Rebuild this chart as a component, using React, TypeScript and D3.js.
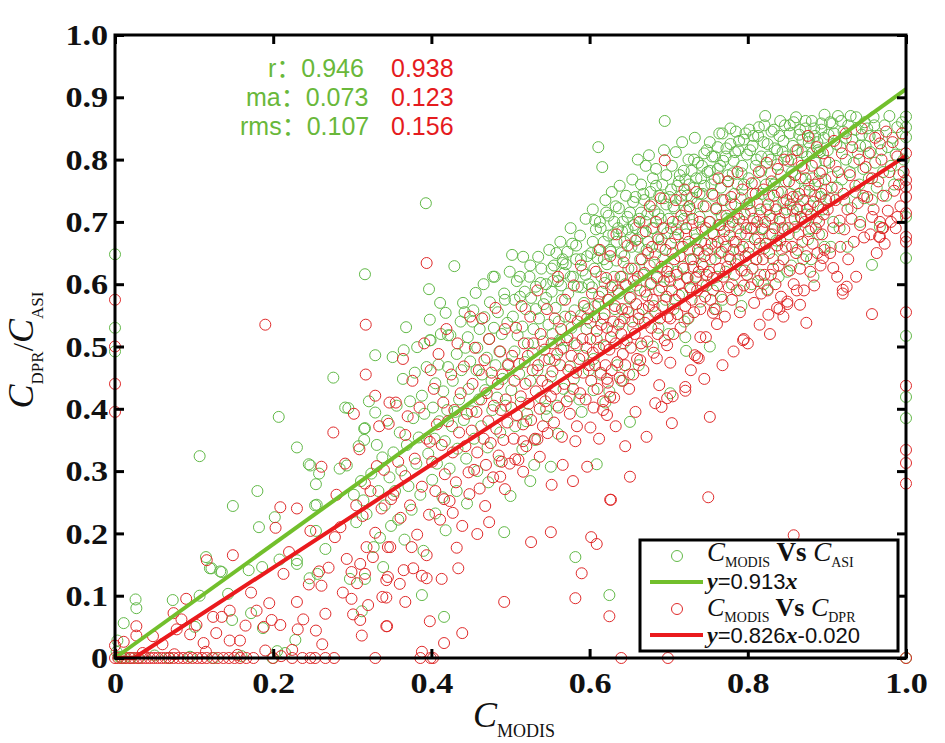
import React, { useEffect, useRef } from "react";
import * as d3 from "d3";

// axis ticks
const xTicks = [0, 0.2, 0.4, 0.6, 0.8, 1.0];
const xTickLabels = ["0", "0.2", "0.4", "0.6", "0.8", "1.0"];
const yTicks = [0, 0.1, 0.2, 0.3, 0.4, 0.5, 0.6, 0.7, 0.8, 0.9, 1.0];
const yTickLabels = ["0", "0.1", "0.2", "0.3", "0.4", "0.5", "0.6", "0.7", "0.8", "0.9", "1.0"];

// regression fits and statistics
const asiFit = { slope: 0.913, intercept: 0 };
const dprFit = { slope: 0.826, intercept: -0.02 };
const statNames = ["r：", "ma：", "rms："];
const asiStats = ["0.946", "0.073", "0.107"];
const dprStats = ["0.938", "0.123", "0.156"];

// points, "x,y" in thousandths (C_MODIS, C_ASI)
const asiLow = `0,648 0,530 0,492 2,10 5,2 8,0 12,0 20,0 3,28 30,0 50,4 68,0 95,2 125,0 160,3 199,0 215,8
11,56 26,94 27,80 73,93 107,324 101,50 107,100 115,162 120,144 122,144 133,139 135,138 143,103 148,61
149,244 169,141 172,72 180,268 182,210 186,146 187,48 205,11 207,387 202,226 208,158 228,29 230,338
230,157 230,151 245,311 247,309 253,245 254,279 254,204 255,246 256,135 246,128 258,296 266,175 276,450
291,402 295,401 284,304 293,309 297,127 302,262 305,218 308,340 311,284 312,75 315,350 315,368 316,127
316,369 316,616 314,253 318,231 321,412 324,296 327,178 329,394 329,486 331,342 333,268 335,193 338,322
339,146 341,245 344,381 347,290 349,212`;

const asiMid = `351,483 352,330 354,268 356,405 358,222 360,362 362,301 364,448 365,494 366,190 368,531 369,342
371,276 373,412 375,238 377,385 379,458 381,312 382,499 384,354 386,262 388,421 388,101 390,172 391,392
393,730 394,467 396,328 397,592 398,543 398,510 399,510 401,286 402,402 404,352 405,441 405,232 407,312
409,471 410,380 411,570 412,520 414,258 415,428 416,66 417,348 418,554 418,205 420,398 421,467 421,518
423,304 424,518 426,372 427,445 429,629 430,395 432,488 432,268 433,336 435,415 437,540 438,462 440,570
441,382 442,555 443,498 444,320 445,248 446,515 447,432 449,476 451,396 452,540 453,558 454,352 456,586
457,462 458,498 458,300 460,415 461,528 463,372 464,455 466,600 467,547 468,430 470,482 471,338 472,282
473,512 474,571 476,445 477,398 478,612 479,530 480,612 481,470 483,418 484,555 486,492 486,316 487,362
489,520 490,448 492,585 492,202 493,575 494,405 496,538 497,472 499,620 500,260 501,430 502,647 503,548
505,492 506,372 508,605 509,518 511,456 512,580 513,410 515,532 515,335 516,644 518,475 519,560 520,380
521,392 522,505 524,612 525,445 525,284 526,578 528,490 529,528 530,310 531,350 532,596 534,462 535,644
536,545 538,418 539,625 541,508 542,568 543,478 545,600 545,400 546,388 548,535 549,655 551,452 551,307
552,588 553,520 554,605 555,630 556,478 557,562 559,405 560,605 560,360 561,540 562,510 563,668 564,495
565,575 566,640 566,634 567,432 568,618 569,548 571,510 572,652 573,585 575,468 575,420 576,690 577,530
578,665 579,612 580,448 581,558 582,162 583,640 584,502 585,596 587,415 588,678 589,550 590,595 590,395
591,622 592,485 593,570 595,705 596,528 597,645 598,560 599,600 599,462
505,575 512,612 518,588 525,630 532,560 538,602 545,578 552,625 558,650 564,598 570,632 576,612 583,662
589,640 595,615`;

const asiHigh = `601,538 602,650 603,595 604,720 605,480 605,430 606,625 607,565 608,688 609,512 609,311 610,642
611,820 612,580 613,700 614,455 615,612 616,788 617,545 618,668 619,602 620,735 620,410 621,500 622,632
623,575 624,710 625,428 625,101 626,655 627,595 628,748 629,525 630,680 631,612 632,560 633,725 634,638
635,470 636,690 637,585 638,758 639,540 640,650 640,445 641,612 642,700 643,505 644,668 645,600 646,742
647,560 648,688 649,625 650,455 651,715 651,379 652,580 653,660 654,768 655,530 656,695 657,625 658,740
659,598 660,672 661,800 662,552 662,470 663,705 664,640 665,760 666,500 667,682 668,615 669,735 670,588
671,790 672,655 673,712 674,545 675,807 676,630 677,748 678,602 679,690 680,770 680,500 681,565 682,718
683,648 684,785 685,610 686,675 687,530 688,742 689,660 690,705 691,595 692,760 693,640 694,815 695,862
696,575 697,728 698,682 699,625 700,520 701,740 702,605 702,425 703,690 704,790 705,650 706,560 707,722
708,675 709,812 710,620 711,758 712,700 713,582 714,775 715,660 716,735 717,828 718,628 719,705 720,540
721,768 721,515 722,493 722,680 723,742 724,610 725,800 725,545 726,655 727,720 728,592 729,782 730,695
731,640 732,755 733,835 734,672 735,612 736,730 737,795 738,650 739,708 740,572 741,770 742,688 743,745
744,628 745,810 746,665 747,725 748,598 749,780 751,700 752,828 752,500 753,640 754,760 755,682 756,590
757,742 758,805 759,660 760,720 760,560 761,612 762,785 763,695 764,842 765,650 766,755 767,710 768,575
769,798 770,672 771,735 772,620 773,818 774,705 775,765 776,645 777,692 778,850 779,728 780,600 781,778
782,668 783,745 784,812 785,632 786,712 787,760 788,690 789,830 790,655 790,590 791,738 792,565 793,790
794,700 795,760 796,622 797,842 798,680 799,728 801,770 802,660 803,815 804,718 805,600 806,745 807,838
808,690 809,762 810,640 811,800 812,730 813,675 814,852 815,710 816,615 817,782 818,745 819,690 820,828
820,600 821,658 822,870 823,760 824,720 825,592 826,805 827,742 828,680 829,778 830,845 831,705 832,640
833,760 834,818 835,725 836,670 837,792 838,748 839,612 840,838 841,700 842,775 843,655 844,812 845,730
846,688 847,855 848,765 849,720 850,620 851,798 852,680 853,842 854,745 855,630 856,780 857,718 858,860
859,760 860,692 861,815 862,740 863,655 864,795 865,725 866,848 867,770 868,705 869,832 870,640 871,785
872,750 873,862 874,712 875,805 876,672 877,760 878,835 879,725 880,690 880,640 881,810 882,770 883,612
884,850 885,742 886,795 887,705 888,828 889,765 890,680 891,812 892,740 893,858 894,782 895,720 896,835
897,660 898,798 899,752 901,815 903,738 904,860 905,660 906,772 908,700 909,842 911,790 913,755 914,870
916,690 917,820 919,768 921,845 922,735 924,800 926,660 927,855 929,780 931,722 932,832 934,795 936,748
937,868 939,810 941,760 942,700 944,840 946,785 947,738 949,822 951,850 953,770 955,812 957,735 957,631
959,868 961,795 963,755 965,838 967,692 969,815 971,780 973,855 975,742 977,820 979,870 981,790 983,835
985,760 987,808 989,852 991,775 993,825 995,860 997,800`;

// denser upper band of the ASI cloud
const asiUpper = `604,668 607,702 611,655 614,690 618,640 621,715 624,678 627,652 631,700 634,668 637,722 641,685
644,645 648,708 652,675 655,732 658,690 662,660 665,715 668,745 671,700 674,668 678,728 681,690 684,758
687,712 691,672 694,738 697,775 700,705 703,752 706,725 710,688 713,765 716,742 719,782 722,718 726,760
729,738 732,800 735,770 739,745 742,790 745,758 748,815 752,782 755,805 758,768 762,820 765,790 768,842
772,805 775,775 778,825 782,798 785,845 788,815 792,778 795,832 799,808 802,848 806,822 810,790 813,838
817,805 821,855 825,825 829,800 833,848 837,815 841,862 845,830 849,805 853,855 857,822 861,868 865,840
869,812 873,850 877,828 881,862 885,838 889,815 893,848 897,872 902,840 907,858 912,825 918,862 924,835
930,870 936,848 942,822 948,860 954,838 960,855`;

const asiEdge = `1000,869 1000,852 1000,836 1000,708 1000,642 1000,517 1000,419 1000,385 1000,0`;

// points, "x,y" in thousandths (C_MODIS, C_DPR)
const dprLow = `0,575 0,500 0,440 0,395 0,20 0,0 4,0 9,0 14,0 19,0 24,0 29,0 34,0 39,0 44,0 49,0 54,0 59,0
64,0 69,0 74,0 80,0 86,0 92,0 98,0 104,0 110,0 116,0 123,0 130,0 137,0 144,0 151,0 158,0 166,0 175,0
200,0 224,0 237,0 247,0 253,0 266,0 277,0 329,0 35,8 75,6 115,10 155,5 190,12 210,3 27,51 27,36 11,26
74,72 84,62 78,46 103,53 116,157 124,66 112,24 135,66 149,165 145,76 145,28 158,28 179,76 188,50 198,61
209,53 203,209 209,242 213,135 230,240 230,90 231,46 224,13 247,204 258,139 245,118 261,116 254,44
261,307 266,71 276,362 280,262 291,312 278,194 293,159 299,138 299,95 301,70 310,61 312,36 316,135
318,178 310,151 316,280 331,308 329,421 329,201 343,97 343,51 343,125 345,130 345,178 190,535 317,535
48,35 60,22 90,95 95,38 128,40 165,52 172,105 195,88 220,170 238,62 262,22 270,145 285,210 288,105
305,245 302,392 306,120 309,335 313,228 317,455 320,85 323,268 326,162 334,372 337,240 340,302 347,410
349,255 338,98 344,51 346,376`;

const dprMid = `367,358 398,347 416,255 427,233 448,263 468,244 473,218 458,199 432,177 394,165 375,178
348,178 377,144 365,141 388,132 394,128 413,127 434,144 360,119 367,90 398,59 439,40 416,24 388,10 386,0
399,0 402,0 492,90 526,186 551,202 493,271 487,291 516,348 489,315 506,319 516,299 537,323 552,278
566,310 579,284 597,307 582,348 601,370 534,351 547,361 590,136 582,96 394,634 352,262 355,410 358,315
361,225 364,480 367,292 370,388 373,245 376,445 379,320 382,198 385,402 388,275 391,505 394,352 397,230
399,462 401,315 403,432 405,268 407,375 409,488 411,222 413,342 415,410 417,295 419,528 421,380 423,252
425,455 427,330 429,398 431,282 433,505 435,362 437,425 439,212 441,468 443,340 445,392 447,298 449,548
451,365 452,440 454,302 455,498 457,395 458,330 460,462 461,272 463,415 464,545 466,352 467,478 469,310
470,425 472,380 473,512 475,345 476,458 478,290 479,405 481,562 482,368 484,440 485,325 487,492 488,398
490,455 491,350 493,528 494,415 496,378 497,470 499,312 501,402 502,485 504,352 505,445 507,530 508,390
510,318 511,472 513,420 514,565 516,375 517,505 519,440 520,340 522,485 523,408 525,548 526,382 528,462
529,505 531,352 532,428 534,590 535,470 537,400 538,520 540,445 541,372 543,495 544,412 546,560 547,438
549,480 551,420 552,505 553,460 555,378 556,545 557,432 559,488 560,612 561,402 563,470 564,528 565,355
567,498 568,440 569,575 571,412 572,515 573,462 575,392 576,548 577,485 579,432 580,598 581,505 583,458
584,372 585,540 587,480 588,425 589,630 591,512 592,458 593,565 595,415 596,498 597,545 599,470`;

const dprHigh = `602,194 609,183 625,67 627,254 651,291 640,0 699,0 957,552 874,538 826,551 837,562 850,568
866,567 795,512 761,536 756,554 740,515 747,515 733,486 738,481 702,474 685,481 698,502 664,478 642,445
622,448 626,419 617,398 622,390 683,409 691,403 698,417 721,435 721,429 704,377 752,387 750,258 626,254
858,197 920,591 920,585 966,676 970,690 989,708 794,510 840,560 850,572 695,799 736,483 971,690 967,676
957,708 925,596 908,626 895,642 967,826 612,352 633,372 645,340 658,395 672,355 688,438 705,420 728,462
745,448 768,470 782,492 800,505 815,535 828,520 845,548 862,590 601,512 602,445 603,585 604,490 605,402
606,548 607,470 608,620 609,525 610,432 611,568 612,498 613,655 614,458 615,535 616,588 617,412 618,502
619,552 620,470 621,610 622,530 623,442 624,575 625,495 626,645 627,515 628,462 629,598 630,540 631,418
632,565 633,505 634,680 635,475 636,590 637,535 638,450 639,612 640,520 641,560 642,488 643,635 644,545
645,470 646,598 647,510 648,662 649,555 650,432 651,578 652,498 653,625 654,540 655,455 656,605 657,520
658,670 659,568 660,480 661,612 662,545 663,700 664,590 665,505 666,640 667,560 668,462 669,618 670,538
671,685 672,582 673,508 674,650 675,565 676,725 677,600 678,530 679,660 680,575 681,490 682,635 683,555
684,700 685,612 686,520 687,672 688,590 689,545 690,738 691,628 692,565 693,690 694,605 695,510 696,655
697,580 698,620 699,548 701,612 702,545 703,665 704,590 705,700 706,520 707,640 708,575 709,735 710,615
711,552 712,680 713,600 714,645 715,530 716,710 717,585 718,660 719,625 720,752 721,565 722,690 723,610
724,545 725,668 726,725 727,595 728,640 729,575 730,705 731,628 732,555 733,682 734,610 735,748 736,590
737,655 738,620 739,700 740,560 741,668 742,632 743,598 744,725 745,645 746,580 747,690 748,615 749,655
751,620 752,700 753,575 754,665 755,745 756,610 757,680 758,560 759,640 760,722 761,598 762,668 763,770
764,625 765,695 766,580 767,652 768,735 769,612 770,685 771,548 772,660 773,710 774,628 775,765 776,595
777,678 778,640 779,740 780,575 781,700 782,655 783,615 784,728 785,668 786,590 787,780 788,640 789,705
790,555 791,680 792,622 793,752 794,660 795,598 796,712 797,645 798,690 799,615 801,650 802,730 803,595
804,690 805,762 806,625 807,705 808,570 809,672 810,745 811,640 812,700 813,605 814,780 815,665 816,720
817,585 818,688 819,640 820,752 821,615 822,700 823,665 824,795 825,590 826,728 827,650 828,710 829,615
830,765 831,680 832,625 833,742 834,690 835,600 836,720 837,662 838,785 839,630 840,705 841,670 842,580
843,748 844,690 845,640 846,800 847,715 848,660 849,735 851,690 852,765 853,622 854,728 855,800 856,660
857,740 858,600 859,705 860,775 861,650 862,720 863,815 864,680 865,745 866,625 867,708 868,790 869,668
870,735 871,590 872,700 873,770 874,645 875,720 876,838 877,685 878,750 879,620 880,712 881,790 882,665
883,732 884,598 885,760 886,690 887,820 888,650 889,725 890,700 891,778 892,630 893,745 894,680 895,810
896,712 897,655 898,768 899,735 901,720 903,795 904,650 906,755 908,690 909,830 911,735 913,612 914,780
916,702 917,660 919,810 921,745 922,688 924,842 926,720 927,640 929,775 931,705 932,820 934,668 936,758
937,612 939,730 941,800 942,695 944,850 946,742 947,675 949,788 951,740 953,810 955,680 957,770 959,720
961,835 963,650 965,765 967,700 969,800 971,742 973,665 975,845 977,718 979,780 981,700 983,828 985,750
987,690 989,805 991,760 993,725 995,842 997,780`;

const dprEdge = `1000,810 1000,767 1000,756 1000,740 1000,714 1000,676 1000,668 1000,555 1000,437 1000,334
1000,313 1000,280 1000,0`;

const parsePoints = (...chunks: string[]): [number, number][] =>
  chunks
    .join(" ")
    .trim()
    .split(/\s+/)
    .map((s) => {
      const [a, b] = s.split(",");
      return [+a / 1000, +b / 1000] as [number, number];
    });

const asiPoints = parsePoints(asiLow, asiMid, asiHigh, asiUpper, asiEdge);
const dprPoints = parsePoints(dprLow, dprMid, dprHigh, dprEdge);

const SERIF = "'Liberation Serif', 'DejaVu Serif', serif";
const SANS = "'Liberation Sans', Arial, 'Noto Sans CJK SC', sans-serif";
const GREEN_PT = "#62b948";
const RED_PT = "#e02a2a";
const GREEN_LINE = "#72bf2c";
const RED_LINE = "#ea1a1d";
const GREEN_TEXT = "#69b83a";
const RED_TEXT = "#e51b1e";

interface Part {
  t: string;
  size: number;
  italic?: boolean;
  bold?: boolean;
  sans?: boolean;
  dy?: number;
}

const addRich = (
  parent: d3.Selection<any, unknown, null, undefined>,
  x: number,
  y: number,
  parts: Part[],
  anchor = "start"
) => {
  const text = parent
    .append("text")
    .attr("x", x)
    .attr("y", y)
    .attr("text-anchor", anchor)
    .attr("fill", "#111")
    .style("white-space", "pre");
  parts.forEach((p) => {
    text
      .append("tspan")
      .text(p.t)
      .attr("font-size", p.size)
      .attr("font-family", p.sans ? SANS : SERIF)
      .attr("font-style", p.italic ? "italic" : "normal")
      .attr("font-weight", p.bold ? 700 : 400)
      .attr("dy", p.dy ?? 0);
  });
  return text;
};

const App = () => {
  const svgRef = useRef<SVGSVGElement>(null);
  const svgWidth = 945;
  const svgHeight = 743;

  useEffect(() => {
    const M = { LEFT: 115, RIGHT: 906, TOP: 35, BOTTOM: 658 };
    const svg = d3.select(svgRef.current);
    svg.selectAll("*").remove();

    const x = d3.scaleLinear().domain([0, 1]).range([M.LEFT, M.RIGHT]);
    const y = d3.scaleLinear().domain([0, 1]).range([M.BOTTOM, M.TOP]);

    // scatter
    const pts = svg.append("g").attr("fill", "none").attr("stroke-width", 1);
    pts
      .selectAll("circle.asi")
      .data(asiPoints)
      .enter()
      .append("circle")
      .attr("class", "asi")
      .attr("cx", (d) => x(d[0]))
      .attr("cy", (d) => y(d[1]))
      .attr("r", 5.5)
      .attr("stroke", GREEN_PT);
    pts
      .selectAll("circle.dpr")
      .data(dprPoints)
      .enter()
      .append("circle")
      .attr("class", "dpr")
      .attr("cx", (d) => x(d[0]))
      .attr("cy", (d) => y(d[1]))
      .attr("r", 5.5)
      .attr("stroke", RED_PT);

    // fit lines
    const line = d3
      .line<[number, number]>()
      .x((d) => x(d[0]))
      .y((d) => y(d[1]));
    const asiLine: [number, number][] = [0, 1].map((v) => [v, asiFit.slope * v + asiFit.intercept]);
    const xCross = -dprFit.intercept / dprFit.slope;
    const dprLine: [number, number][] = [0, xCross, 1].map((v) => [
      v,
      Math.max(0, dprFit.slope * v + dprFit.intercept),
    ]);
    svg.append("path").attr("d", line(asiLine)).attr("stroke", GREEN_LINE).attr("stroke-width", 4).attr("fill", "none");
    svg.append("path").attr("d", line(dprLine)).attr("stroke", RED_LINE).attr("stroke-width", 4).attr("fill", "none");

    // axes, ticks pointing inward; labels a touch wider like the original
    const styleAxis = (g: d3.Selection<SVGGElement, unknown, null, undefined>) => {
      g.attr("font-family", SERIF).attr("font-size", 30).attr("font-weight", 700);
      g.select(".domain").remove();
      g.selectAll(".tick line").attr("stroke", "#000").attr("stroke-width", 3);
      g.selectAll(".tick text").attr("fill", "#111").attr("transform", "scale(1.14,1)");
    };
    svg
      .append("g")
      .attr("transform", `translate(0,${M.BOTTOM})`)
      .call(
        d3.axisBottom(x).tickValues(xTicks).tickSize(-9).tickPadding(14)
          .tickFormat((_, i) => xTickLabels[i])
      )
      .call(styleAxis);
    svg
      .append("g")
      .attr("transform", `translate(0,${M.TOP})`)
      .call(d3.axisTop(x).tickValues(xTicks).tickSize(-9).tickFormat(() => ""))
      .call(styleAxis);
    svg
      .append("g")
      .attr("transform", `translate(${M.LEFT},0)`)
      .call(
        d3.axisLeft(y).tickValues(yTicks).tickSize(-9).tickPadding(6)
          .tickFormat((_, i) => yTickLabels[i])
      )
      .call(styleAxis);
    svg
      .append("g")
      .attr("transform", `translate(${M.RIGHT},0)`)
      .call(d3.axisRight(y).tickValues(yTicks).tickSize(-9).tickFormat(() => ""))
      .call(styleAxis);

    svg
      .append("rect")
      .attr("x", M.LEFT)
      .attr("y", M.TOP)
      .attr("width", M.RIGHT - M.LEFT)
      .attr("height", M.BOTTOM - M.TOP)
      .attr("fill", "none")
      .attr("stroke", "#000")
      .attr("stroke-width", 3);

    // axis titles
    addRich(svg, 473, 727, [
      { t: "C", size: 36, italic: true },
      { t: "MODIS", size: 18, dy: 10 },
    ]);
    const yTitle = svg.append("g").attr("transform", "translate(33,350) rotate(-90)");
    addRich(
      yTitle,
      0,
      0,
      [
        { t: "C", size: 36, italic: true },
        { t: "DPR", size: 17, dy: 10 },
        { t: "/", size: 30, dy: -10 },
        { t: "C", size: 36, italic: true },
        { t: "ASI", size: 17, dy: 10 },
      ],
      "middle"
    );

    // statistics
    const statRows = [77, 106, 135];
    const labelX = [268, 246, 240];
    const stats = svg.append("g").attr("font-family", SANS).attr("font-size", 25);
    statNames.forEach((name, i) => {
      stats
        .append("text")
        .attr("x", labelX[i])
        .attr("y", statRows[i])
        .attr("fill", GREEN_TEXT)
        .text(name + asiStats[i]);
      stats
        .append("text")
        .attr("x", 391)
        .attr("y", statRows[i])
        .attr("fill", RED_TEXT)
        .text(dprStats[i]);
    });

    // legend
    const lg = svg.append("g");
    lg.append("rect")
      .attr("x", 640)
      .attr("y", 540)
      .attr("width", 258)
      .attr("height", 111)
      .attr("fill", "#fff")
      .attr("stroke", "#000")
      .attr("stroke-width", 3);
    lg.append("circle").attr("cx", 677).attr("cy", 556).attr("r", 5.5).attr("fill", "none").attr("stroke", GREEN_PT);
    lg.append("circle").attr("cx", 677).attr("cy", 609).attr("r", 5.5).attr("fill", "none").attr("stroke", RED_PT);
    lg.append("line").attr("x1", 650).attr("x2", 703).attr("y1", 582).attr("y2", 582)
      .attr("stroke", GREEN_LINE).attr("stroke-width", 4);
    lg.append("line").attr("x1", 650).attr("x2", 703).attr("y1", 635).attr("y2", 635)
      .attr("stroke", RED_LINE).attr("stroke-width", 4);
    addRich(lg, 707, 561, [
      { t: "C", size: 27, italic: true },
      { t: "MODIS", size: 14, dy: 6 },
      { t: " Vs ", size: 27, bold: true, dy: -6 },
      { t: "C", size: 27, italic: true },
      { t: "ASI", size: 14, dy: 6 },
    ]);
    addRich(lg, 707, 589, [
      { t: "y", size: 24, italic: true, bold: true },
      { t: "=" + asiFit.slope.toFixed(3), size: 22, sans: true },
      { t: "x", size: 24, italic: true, bold: true },
    ]);
    addRich(lg, 707, 616, [
      { t: "C", size: 26, italic: true },
      { t: "MODIS", size: 14, dy: 6 },
      { t: " Vs ", size: 26, bold: true, dy: -6 },
      { t: "C", size: 26, italic: true },
      { t: "DPR", size: 14, dy: 6 },
    ]);
    addRich(lg, 707, 643, [
      { t: "y", size: 24, italic: true, bold: true },
      { t: "=" + dprFit.slope.toFixed(3), size: 22, sans: true },
      { t: "x", size: 24, italic: true, bold: true },
      { t: "-" + Math.abs(dprFit.intercept).toFixed(3), size: 22, sans: true },
    ]);
  }, []);

  return (
    <svg
      ref={svgRef}
      width={svgWidth}
      height={svgHeight}
      style={{ position: "absolute", left: 0, top: 0, background: "#fff" }}
    />
  );
};

export default App;
